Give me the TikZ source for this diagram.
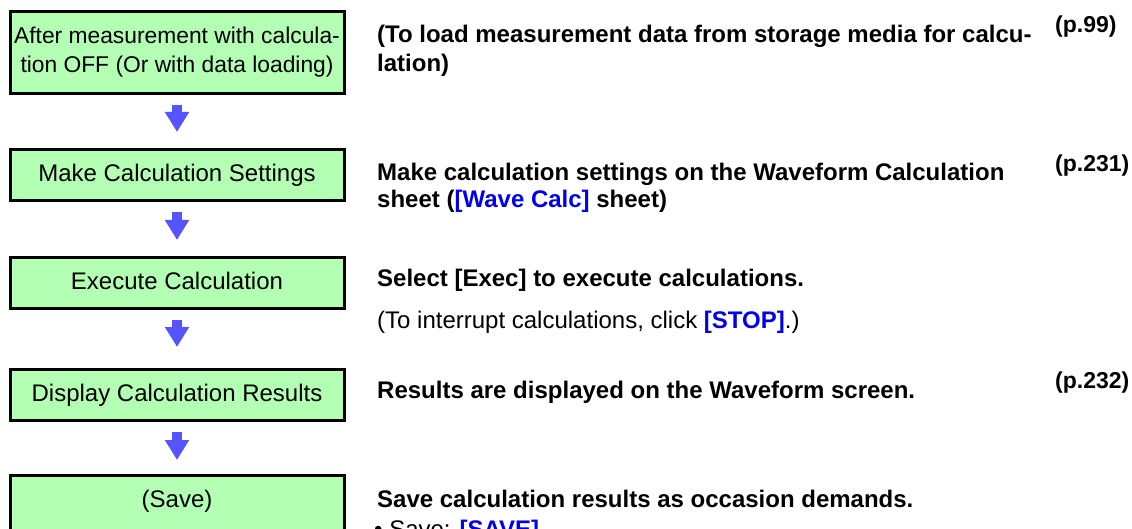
\documentclass[tikz,border=0pt]{standalone}
\usepackage{fontspec}
\setmainfont{Liberation Sans}
\usetikzlibrary{arrows.meta}
\definecolor{boxgreen}{RGB}{179,255,179}
\definecolor{arrowblue}{RGB}{85,85,255}
\definecolor{linkblue}{RGB}{0,0,235}
\begin{document}
\begin{tikzpicture}[x=1pt,y=-1pt,
  boxbase/.style={draw=black, line width=3pt, fill=boxgreen, minimum width=334pt, minimum height=51pt, inner sep=0pt, font=\fontsize{24}{29}\selectfont},
  flowbox/.style={boxbase, text height=17.5pt, text depth=5pt},
  flowarrow/.style={draw=arrowblue, line width=10pt, -{Triangle[width=23pt,length=20pt]}, shorten <=10pt},
  desc/.style={anchor=base west, inner sep=0pt, font=\fontsize{24}{28}\selectfont\bfseries},
  note/.style={anchor=base west, inner sep=0pt, font=\fontsize{24}{28}\selectfont},
  pageref/.style={anchor=base west, inner sep=0pt, font=\fontsize{23}{28}\selectfont\bfseries}]
\useasboundingbox (0,0) rectangle (1132,529);
\clip (0,0) rectangle (1132,529);
% left flow boxes
\node[boxbase, minimum height=82pt, align=center, font=\fontsize{22.8}{29}\selectfont] (b1) at (177,52.5) {After measurement with calcula-\\tion OFF (Or with data loading)};
\node[flowbox] (b2) at (177,175) {Make Calculation Settings};
\node[flowbox] (b3) at (177,283) {Execute Calculation};
\node[flowbox] (b4) at (177,395) {Display Calculation Results};
\node[flowbox, minimum height=81pt, text depth=35.5pt] (b5) at (177,516) {(Save)};
% arrows
\draw[flowarrow, shorten >=16pt] (b1) -- (b2);
\draw[flowarrow, shorten >=16pt] (b2) -- (b3);
\draw[flowarrow, shorten >=21pt] (b3) -- (b4);
\draw[flowarrow, shorten >=14pt] (b4) -- (b5);
% right descriptions
\node[desc] (r1a) at (377,43) {(To load measurement data from storage media for calcu-};
\node[desc] (r1b) at (377,72) {lation)};
\node[pageref] (p1) at (1055,33) {(p.99)};
\node[desc] (r2a) at (377,181) {Make calculation settings on the Waveform Calculation};
\node[desc] (r2b) at (377,208) {sheet (\textcolor{linkblue}{[Wave Calc]} sheet)};
\node[pageref] (p2) at (1055,172) {(p.231)};
\node[desc] (r3a) at (377,287) {Select [Exec] to execute calculations.};
\node[note] (r3b) at (377,328) {(To interrupt calculations, click \textcolor{linkblue}{\bfseries [STOP]}.)};
\node[desc] (r4a) at (377,398) {Results are displayed on the Waveform screen.};
\node[pageref] (p4) at (1055,388) {(p.232)};
\node[desc] (r5a) at (377,507) {Save calculation results as occasion demands.};
\node[note] (r5b) at (374,537) {\textbullet\ Save: \textcolor{linkblue}{\bfseries [SAVE]}};
\end{tikzpicture}
\end{document}
